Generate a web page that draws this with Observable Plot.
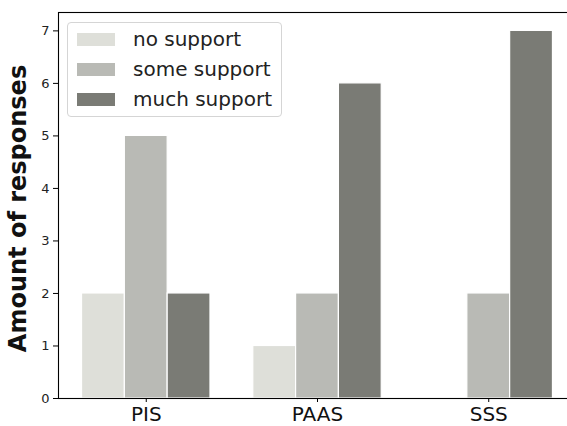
<!DOCTYPE html>
<html>
<head>
<meta charset="utf-8">
<script src="https://cdn.jsdelivr.net/npm/d3@7"></script>
<script src="https://cdn.jsdelivr.net/npm/@observablehq/plot@0.6"></script>
<style>
  html, body { margin: 0; padding: 0; overflow: hidden; background: #fff; width: 567px; height: 426px; }
  #wrap { position: relative; width: 567px; height: 426px; overflow: hidden; font-family: "DejaVu Sans", sans-serif; }
  #chart svg { max-width: none !important; display: block; }
  #legend { position: absolute; left: 67px; top: 22px; width: 215px; height: 95px; border: 1px solid #d5d5d5; border-radius: 4px; background: rgba(255,255,255,0.8); box-sizing: border-box; }
  .row { position: absolute; left: 9px; height: 14px; }
  .sw { width: 38px; height: 13px; }
  .lab { position: absolute; left: 56px; top: -6px; white-space: nowrap; font-size: 20px; color: #222; line-height: 24px; }
</style>
</head>
<body>
<div id="wrap"><div id="chart"></div><div id="legend"></div></div>
<script>
const categories = ["PIS", "PAAS", "SSS"];
const series = ["no support", "some support", "much support"];
const noSupport = [2, 1, 0];
const someSupport = [5, 2, 2];
const muchSupport = [2, 6, 7];
const yTicks = [0, 1, 2, 3, 4, 5, 6, 7];
const colors = ["#dedfd9", "#b9bab5", "#7a7b75"];

const valuesBySeries = [noSupport, someSupport, muchSupport];
const data = [];
categories.forEach((c, i) => {
  series.forEach((s, j) => {
    data.push({cat: c, series: s, i, j, value: valuesBySeries[j][i]});
  });
});
const barW = 0.25;

const chart = Plot.plot({
  width: 580,
  height: 426,
  marginLeft: 58,
  marginTop: 12,
  marginBottom: 28,
  marginRight: 4,
  style: {fontFamily: "DejaVu Sans, sans-serif", background: "white", color: "#222", maxWidth: "none"},
  x: {domain: [-0.5125, 2.5125], axis: null},
  y: {domain: [0, 7.35], axis: null},
  color: {domain: series, range: colors},
  marks: [
    Plot.rectY(data, {
      x1: d => d.i + (d.j - 1) * barW - barW / 2,
      x2: d => d.i + (d.j - 1) * barW + barW / 2,
      y1: 0,
      y2: "value",
      fill: "series",
      stroke: "white",
      strokeWidth: 1.2
    }),
    Plot.frame({stroke: "black", strokeWidth: 1.1}),
    Plot.axisY(yTicks, {tickSize: 5, tickPadding: 4, fontSize: 13, label: null, tickFormat: d => String(d), stroke: "black", fill: "#222"}),
    Plot.axisX(categories.map((c, i) => i), {tickSize: 4, tickPadding: 4, fontSize: 20, label: null, tickFormat: i => categories[i], stroke: "black", fill: "#111"}),
    Plot.text(["Amount of responses"], {frameAnchor: "left", textAnchor: "middle", rotate: -90, dx: -40, dy: 3, fontSize: 24, fontWeight: "bold", fill: "#111"})
  ]
});
chart.style.maxWidth = "none";
document.getElementById("chart").appendChild(chart);

const legend = document.getElementById("legend");
series.forEach((s, j) => {
  const row = document.createElement("div");
  row.className = "row";
  row.style.top = (10 + j * 30) + "px";
  row.innerHTML = `<div class="sw" style="background:${colors[j]}"></div><div class="lab">${s}</div>`;
  legend.appendChild(row);
});
</script>
</body>
</html>
